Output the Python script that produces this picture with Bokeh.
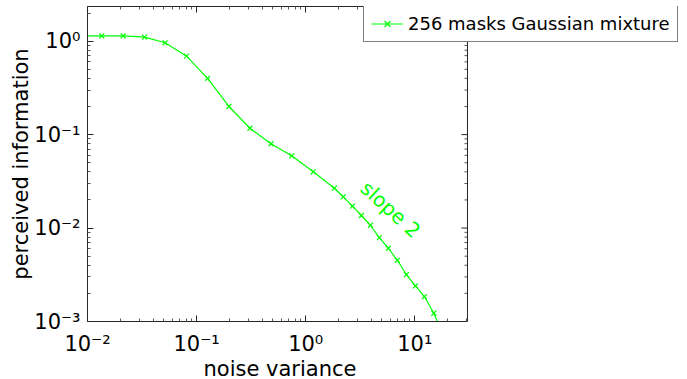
import numpy as np
from bokeh.plotting import figure
from bokeh.models import FixedTicker, LogAxis, Legend, Range1d, Span, Title
from bokeh.core.properties import value
from bokeh.embed import file_html
from bokeh.resources import INLINE

# data
noise_variance = [0.00867, 0.01352, 0.02123, 0.03335, 0.0515, 0.0809, 0.126, 0.198,
                  0.308, 0.481, 0.744, 1.174, 1.83, 2.21, 2.68, 3.24, 3.92, 4.73,
                  5.72, 6.92, 8.37, 10.13, 12.25, 14.94, 18.07]
perceived_info = [1.142, 1.142, 1.142, 1.104, 0.961, 0.691, 0.399, 0.200,
                  0.117, 0.0798, 0.0593, 0.040, 0.0267, 0.0216, 0.01714, 0.01362,
                  0.01072, 0.0079, 0.00608, 0.00452, 0.00318, 0.0024, 0.00185,
                  0.001225, 0.00074]
series_label = "256 masks Gaussian mixture"
x_axis_label = "noise variance"
y_axis_label = "perceived information"
slope_text = ["slope 2"]
slope_x = [6.0]
slope_y = [0.0158]

x_major = [1e-2, 1e-1, 1e0, 1e1]
x_labels = {1e-2: "10⁻²", 1e-1: "10⁻¹", 1e0: "10⁰", 1e1: "10¹"}
y_major = [1e-3, 1e-2, 1e-1, 1e0]
y_labels = {1e-3: "10⁻³", 1e-2: "10⁻²", 1e-1: "10⁻¹", 1e0: "10⁰"}

X_MIN, X_MAX = 0.01, 30.4      # visible axis box
Y_MIN, Y_MAX = 0.001, 2.35

FONT = "DejaVu Sans"
FS = "21px"
GREEN = "#00ff00"
AXC = "#262626"
MINC = "#555555"

x_minor = [m * 10.0 ** k for k in range(-2, 2) for m in range(2, 10)]
x_minor = [t for t in x_minor if t <= X_MAX]
y_minor = [m * 10.0 ** k for k in range(-3, 1) for m in range(2, 10)]
y_minor = [t for t in y_minor if t <= Y_MAX] + [2.0]

# frame extends to the right edge so that the legend (which sticks out of the
# axis box) is not clipped; the axis box itself is drawn with bounded axes.
FRAME_LEFT, FRAME_RIGHT = 87, 687
decade_px = 109.1
x_frame_end = 10 ** (-2 + (FRAME_RIGHT - FRAME_LEFT) / decade_px)

p = figure(width=687, height=379, x_axis_type="log", y_axis_type="log",
           x_range=Range1d(X_MIN, x_frame_end), y_range=Range1d(Y_MIN, Y_MAX),
           output_backend="svg", toolbar_location=None,
           min_border_left=FRAME_LEFT, min_border_right=0, min_border_top=6,
           min_border_bottom=58)
p.grid.visible = False
p.outline_line_color = None
p.background_fill_color = "white"
p.border_fill_color = "white"


def style_axis(ax, ticker, labels, show):
    ax.ticker = ticker
    ax.axis_line_color = AXC
    ax.axis_line_width = 1
    ax.major_tick_line_color = AXC
    ax.minor_tick_line_color = MINC
    ax.major_tick_in = 6
    ax.major_tick_out = 0
    ax.minor_tick_in = 3
    ax.minor_tick_out = 0
    if show:
        ax.major_label_overrides = labels
        ax.major_label_text_font = FONT
        ax.major_label_text_font_size = FS
        ax.major_label_text_color = "black"
        ax.axis_label_text_font = FONT
        ax.axis_label_text_font_size = FS
        ax.axis_label_text_font_style = "normal"
        ax.axis_label_text_color = "black"
    else:
        ax.major_label_overrides = {t: "" for t in labels}
        ax.major_label_text_font_size = "1px"
        ax.major_label_standoff = 0


style_axis(p.xaxis[0], FixedTicker(ticks=x_major, minor_ticks=x_minor), x_labels, True)
style_axis(p.yaxis[0], FixedTicker(ticks=y_major, minor_ticks=y_minor), y_labels, True)
p.xaxis[0].bounds = (X_MIN, X_MAX)
p.yaxis[0].axis_label = y_axis_label
p.xaxis[0].major_label_standoff = 10
p.yaxis[0].major_label_standoff = 7
p.yaxis[0].axis_label_standoff = -2

top_ax = LogAxis(bounds=(X_MIN, X_MAX))
style_axis(top_ax, FixedTicker(ticks=x_major, minor_ticks=x_minor), x_labels, False)
p.add_layout(top_ax, "above")

# x-axis title, centred under the axis box (not under the wider frame)
xt = Title(text=x_axis_label, align="left", offset=116, standoff=-8,
           text_font=FONT, text_font_size=FS, text_font_style="normal",
           text_color="black")
p.add_layout(xt, "below")

# right edge of the axis box with inward ticks
p.add_layout(Span(location=X_MAX, dimension="height", line_color=AXC, line_width=1))
p.ray(x=[X_MAX] * len(y_major), y=y_major, length=6, length_units="screen",
      angle=np.pi, line_color=AXC, line_width=1)
p.ray(x=[X_MAX] * len(y_minor), y=y_minor, length=3, length_units="screen",
      angle=np.pi, line_color=MINC, line_width=1)

ln = p.line(noise_variance, perceived_info, line_color=GREEN, line_width=1.2)
mk = p.scatter(noise_variance, perceived_info, marker="x", size=7,
               line_color=GREEN, line_width=1.2)

p.text(x=slope_x, y=slope_y, text=slope_text, angle=-0.74,
       text_color=GREEN, text_font=value(FONT), text_font_size="20px",
       text_align="center", text_baseline="middle")

legend = Legend(items=[(series_label, [ln, mk])],
                location=(363 - FRAME_LEFT, 321 - 42))
legend.border_line_color = "black"
legend.border_line_width = 1
legend.background_fill_color = "white"
legend.background_fill_alpha = 1
legend.label_text_font = FONT
legend.label_text_font_size = "18px"
legend.label_text_color = "black"
legend.glyph_width = 32
legend.glyph_height = 21
legend.label_height = 21
legend.label_standoff = 5
legend.padding = 7
legend.spacing = 0
legend.margin = 0
p.add_layout(legend, "center")

open("out.html", "w").write(file_html(p, INLINE))
